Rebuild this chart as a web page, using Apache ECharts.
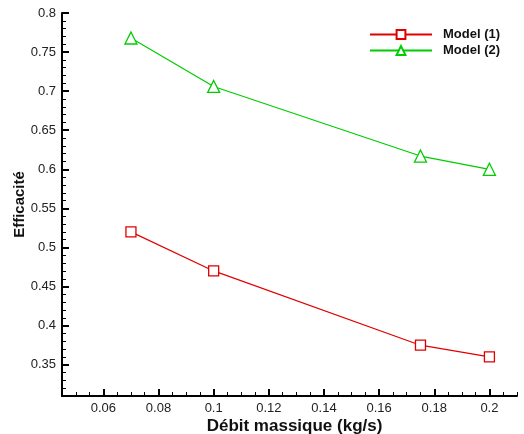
<!DOCTYPE html>
<html><head><meta charset="utf-8">
<script src="https://cdn.jsdelivr.net/npm/echarts@6/dist/echarts.min.js"></script>
<style>html,body{margin:0;padding:0;background:#fff;overflow:hidden}#c{width:524px;height:434px}</style>
</head><body><div id="c"></div>
<script>
var xValues = [0.07, 0.1, 0.175, 0.2];
var model1 = [0.52, 0.47, 0.375, 0.36];
var model2 = [0.768, 0.706, 0.617, 0.600];
var xMajor = [0.06, 0.08, 0.1, 0.12, 0.14, 0.16, 0.18, 0.2];
var xMinor = [0.05, 0.055, 0.065, 0.07, 0.075, 0.085, 0.09, 0.095, 0.105, 0.11, 0.115, 0.125, 0.13, 0.135, 0.145, 0.15, 0.155, 0.165, 0.17, 0.175, 0.185, 0.19, 0.195, 0.205, 0.21];
var yMajor = [0.35, 0.4, 0.45, 0.5, 0.55, 0.6, 0.65, 0.7, 0.75, 0.8];
var yMinor = [0.32, 0.33, 0.34, 0.36, 0.37, 0.38, 0.39, 0.41, 0.42, 0.43, 0.44, 0.46, 0.47, 0.48, 0.49, 0.51, 0.52, 0.53, 0.54, 0.56, 0.57, 0.58, 0.59, 0.61, 0.62, 0.63, 0.64, 0.66, 0.67, 0.68, 0.69, 0.71, 0.72, 0.73, 0.74, 0.76, 0.77, 0.78, 0.79];
var xMin = 0.045, xMax = 0.21, yMin = 0.31, yMax = 0.8;

function pairs(xs, ys){ return xs.map(function(x,i){return [x, ys[i]];}); }
var font = 'Liberation Sans, Arial, sans-serif';
var axisLineStyle = {color:'#000', width:2};
function xAx(ticks, len, labels, show){
  return {type:'value', min:xMin, max:xMax, position:'bottom',
    axisLine:{show:show, lineStyle:axisLineStyle, onZero:false},
    splitLine:{show:false},
    axisTick:{show:true, inside:true, length:len, customValues:ticks, lineStyle:{color:'#000', width:len>4?2:1}},
    axisLabel:{show:labels, customValues:ticks, color:'#222', fontSize:13, fontFamily:font, margin:6},
  };
}
function yAx(ticks, len, labels, show){
  return {type:'value', min:yMin, max:yMax, position:'left',
    axisLine:{show:show, lineStyle:axisLineStyle, onZero:false},
    splitLine:{show:false},
    axisTick:{show:true, inside:true, length:len, customValues:ticks, lineStyle:{color:'#000', width:len>4?2:1}},
    axisLabel:{show:labels, customValues:ticks, color:'#222', fontSize:13, fontFamily:font, margin:6},
  };
}
var xa0 = xAx(xMajor, 7, true, true);
xa0.name = 'Débit massique (kg/s)'; xa0.nameLocation='middle'; xa0.nameGap=22; xa0.nameMoveOverlap=false;
xa0.nameTextStyle = {fontWeight:'bold', fontSize:17, color:'#111', fontFamily:font, padding:[0,0,0,10]};
var ya0 = yAx(yMajor, 7, true, true);
ya0.name = 'Efficacité'; ya0.nameLocation='middle'; ya0.nameGap=35; ya0.nameMoveOverlap=false;
ya0.nameTextStyle = {fontWeight:'bold', fontSize:15, color:'#111', fontFamily:font};

var chart = echarts.init(document.getElementById('c'), null, {renderer:'canvas'});
chart.setOption({
  animation:false,
  backgroundColor:'#fff',
  grid:{left:62, right:7, top:13, bottom:38, containLabel:false, outerBoundsMode:'none'},
  xAxis:[xa0, xAx(xMinor, 4, false, false)],
  yAxis:[ya0, yAx(yMinor, 4, false, false)],
  legend:{orient:'vertical', left:364, top:23, itemWidth:62, itemHeight:11, itemGap:3,
    textStyle:{fontWeight:'bold', fontSize:13, color:'#111', fontFamily:font, padding:[0,0,0,6]},
    data:['Model (1)','Model (2)']},
  series:[
    {name:'Model (1)', type:'line', data:pairs(xValues, model1), symbol:'rect', symbolSize:10,
      itemStyle:{color:'#fff', borderColor:'#e00000', borderWidth:1.3}, lineStyle:{color:'#e00000', width:1.2}, color:'#e00000'},
    {name:'Model (2)', type:'line', data:pairs(xValues, model2), symbol:'triangle', symbolSize:12,
      itemStyle:{color:'#fff', borderColor:'#00cc00', borderWidth:1.3}, lineStyle:{color:'#00cc00', width:1.2}, color:'#00cc00'}
  ]
});
</script></body></html>
